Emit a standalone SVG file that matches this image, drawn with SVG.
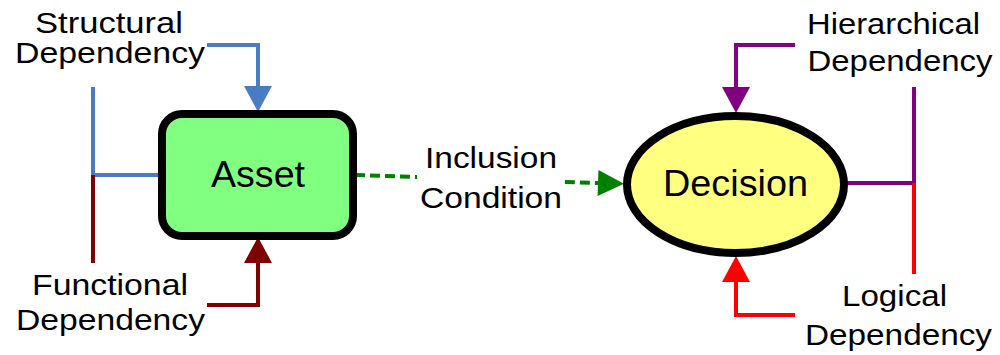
<svg xmlns="http://www.w3.org/2000/svg" width="1000" height="355" viewBox="0 0 1000 355">
<style>
text{font-family:"Liberation Sans",Arial,sans-serif;fill:#000;text-anchor:middle}
.s{font-size:29px}
.l{font-size:37px}
.c{fill:none;stroke-width:4}
</style>
<defs>
<marker id="mb" markerUnits="userSpaceOnUse" markerWidth="26" markerHeight="28" refX="0" refY="14" orient="auto" overflow="visible"><path d="M0,0 L26,14 L0,28 z" fill="#4a7cc4"/></marker>
<marker id="mm" markerUnits="userSpaceOnUse" markerWidth="26" markerHeight="28" refX="0" refY="14" orient="auto" overflow="visible"><path d="M0,0 L26,14 L0,28 z" fill="#7f0000"/></marker>
<marker id="mp" markerUnits="userSpaceOnUse" markerWidth="26" markerHeight="28" refX="0" refY="14" orient="auto" overflow="visible"><path d="M0,0 L26,14 L0,28 z" fill="#800080"/></marker>
<marker id="mr" markerUnits="userSpaceOnUse" markerWidth="26" markerHeight="28" refX="0" refY="14" orient="auto" overflow="visible"><path d="M0,0 L26,14 L0,28 z" fill="#ff0000"/></marker>
<marker id="mg" markerUnits="userSpaceOnUse" markerWidth="26" markerHeight="26" refX="0" refY="13" orient="auto" overflow="visible"><path d="M0,0 L26,13 L0,26 z" fill="#008000"/></marker>
</defs>
<g id="connectors">
<path class="c" stroke="#4a7cc4" d="M207,45 H258 V86" marker-end="url(#mb)"/>
<path class="c" stroke="#4a7cc4" d="M93,87 V175 H163"/>
<path class="c" stroke="#7f0000" d="M93,175 V263"/>
<path class="c" stroke="#7f0000" d="M207,305 H258 V263" marker-end="url(#mm)"/>
<path class="c" stroke="#800080" d="M795,45 H736 V87" marker-end="url(#mp)"/>
<path class="c" stroke="#800080" d="M845,183 H914 V87"/>
<path class="c" stroke="#ff0000" d="M914,183 V274"/>
<path class="c" stroke="#ff0000" d="M795,315 H736 V282" marker-end="url(#mr)"/>
<path class="c" stroke="#008000" stroke-dasharray="10,5" d="M355,175 L598,183" marker-end="url(#mg)"/>
<rect x="417" y="140" width="146" height="72" fill="#fff"/>
<text class="s" x="491" y="168" textLength="132" lengthAdjust="spacingAndGlyphs">Inclusion</text>
<text class="s" x="491" y="208" textLength="142" lengthAdjust="spacingAndGlyphs">Condition</text>
</g>
<g id="asset">
<rect x="162" y="114" width="191" height="122" rx="20" fill="#80ff80" stroke="#000" stroke-width="8"/>
<text class="l" x="258" y="187" textLength="94" lengthAdjust="spacingAndGlyphs">Asset</text>
</g>
<g id="decision">
<ellipse cx="735.5" cy="184.5" rx="108.5" ry="68.5" fill="#ffff80" stroke="#000" stroke-width="8"/>
<text class="l" x="735.5" y="196" textLength="145" lengthAdjust="spacingAndGlyphs">Decision</text>
</g>
<g id="structural">
<text class="s" x="109" y="33" textLength="148" lengthAdjust="spacingAndGlyphs">Structural</text>
<text class="s" x="110" y="63" textLength="190" lengthAdjust="spacingAndGlyphs">Dependency</text>
</g>
<g id="functional">
<text class="s" x="110" y="295" textLength="156" lengthAdjust="spacingAndGlyphs">Functional</text>
<text class="s" x="110.5" y="330" textLength="189" lengthAdjust="spacingAndGlyphs">Dependency</text>
</g>
<g id="hierarchical">
<text class="s" x="893.5" y="34" textLength="173" lengthAdjust="spacingAndGlyphs">Hierarchical</text>
<text class="s" x="900" y="71" textLength="185" lengthAdjust="spacingAndGlyphs">Dependency</text>
</g>
<g id="logical">
<text class="s" x="894.5" y="306" textLength="105" lengthAdjust="spacingAndGlyphs">Logical</text>
<text class="s" x="898.5" y="345" textLength="187" lengthAdjust="spacingAndGlyphs">Dependency</text>
</g>
</svg>
